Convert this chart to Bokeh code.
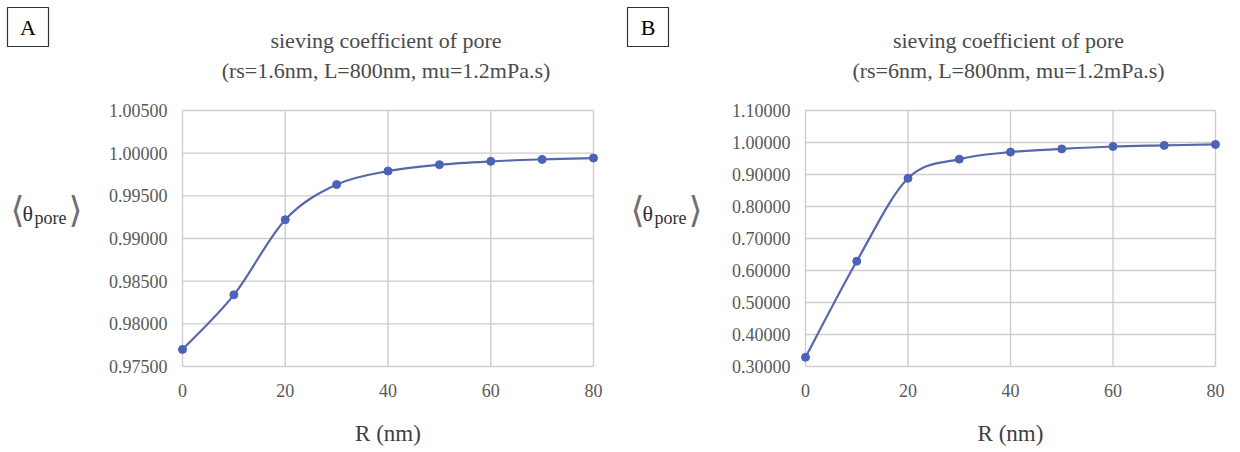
import numpy as np
from bokeh.plotting import figure
from bokeh.models import Range1d, FixedTicker, PrintfTickFormatter
from bokeh.layouts import row, column
from bokeh.embed import file_html
from bokeh.resources import INLINE
from bokeh.core.properties import value

# ---------------- data ----------------
R_nm = [0, 10, 20, 30, 40, 50, 60, 70, 80]
theta_A = [0.97700, 0.98340, 0.99220, 0.99632, 0.99790, 0.99865, 0.99904, 0.99927, 0.99943]
theta_B = [0.3290, 0.6290, 0.8880, 0.9480, 0.9700, 0.9800, 0.9875, 0.9910, 0.9940]

x_ticks = [0, 20, 40, 60, 80]
y_ticks_A = [0.975, 0.980, 0.985, 0.990, 0.995, 1.000, 1.005]
y_ticks_B = [0.3, 0.4, 0.5, 0.6, 0.7, 0.8, 0.9, 1.0, 1.1]

title_lines_A = ["sieving coefficient of pore", "(rs=1.6nm, L=800nm, mu=1.2mPa.s)"]
title_lines_B = ["sieving coefficient of pore", "(rs=6nm, L=800nm, mu=1.2mPa.s)"]
panel_letters = ["A", "B"]
x_label = "R (nm)"
y_label_parts = ["\u27e8", "\u03b8", "pore", "\u27e9"]

# ---------------- style ----------------
SERIF = "Liberation Serif"
AXFONT = "'Liberation Serif', serif"
GRID = "#cdcdcd"
LINE = "#5866ab"
MARK = "#4a62b8"
TICK_COL = "#595959"
TITLE_COL = "#4a4a4a"
DARK = "#303030"
PW, H = 620, 452      # panel size
TOP = 100             # height of the title strip
LW = 90               # width of the y-label strip


def bezier_parts(x, y):
    x = np.asarray(x, float)
    y = np.asarray(y, float)
    xp = np.concatenate([[x[0]], x, [x[-1]]])
    yp = np.concatenate([[y[0]], y, [y[-1]]])
    n = len(x) - 1
    p0x, p1x, p2x, p3x = xp[0:n], xp[1:n + 1], xp[2:n + 2], xp[3:n + 3]
    p0y, p1y, p2y, p3y = yp[0:n], yp[1:n + 1], yp[2:n + 2], yp[3:n + 3]
    return dict(
        x0=p1x, y0=p1y, x1=p2x, y1=p2y,
        cx0=p1x + (p2x - p0x) / 6.0, cy0=p1y + (p2y - p0y) / 6.0,
        cx1=p2x - (p3x - p1x) / 6.0, cy1=p2y - (p3y - p1y) / 6.0,
    )


def strip(w, h):
    f = figure(width=w, height=h, output_backend="svg", toolbar_location=None, title=None,
               x_range=Range1d(0, w), y_range=Range1d(0, h),
               x_axis_type=None, y_axis_type=None, min_border=0)
    f.outline_line_color = None
    f.grid.visible = False
    return f


def make_panel(ys, y_ticks, title_lines, letter, fx0, fx80, fytop, fybot):
    pad_px_x, pad_px_y = 10, 4
    xmin, xmax = x_ticks[0], x_ticks[-1]
    ymin, ymax = y_ticks[0], y_ticks[-1]
    ux = (xmax - xmin) / (fx80 - fx0)
    uy = (ymax - ymin) / (fybot - fytop)
    mw, mh = PW - LW, H - TOP
    p = figure(
        width=mw, height=mh, output_backend="svg", toolbar_location=None, title=None,
        x_range=Range1d(xmin - pad_px_x * ux, xmax + pad_px_x * ux),
        y_range=Range1d(ymin - pad_px_y * uy, ymax + pad_px_y * uy),
        min_border_left=int(fx0 - pad_px_x - LW), min_border_right=int(PW - fx80 - pad_px_x),
        min_border_top=int(fytop - pad_px_y - TOP), min_border_bottom=int(H - fybot - pad_px_y),
    )
    p.outline_line_color = None
    p.grid.visible = False

    p.segment(x0=x_ticks, y0=[ymin] * len(x_ticks), x1=x_ticks, y1=[ymax] * len(x_ticks),
              line_color=GRID, line_width=1.4)
    p.segment(x0=[xmin] * len(y_ticks), y0=y_ticks, x1=[xmax] * len(y_ticks), y1=y_ticks,
              line_color=GRID, line_width=1.4)

    p.bezier(line_color=LINE, line_width=2.2, **bezier_parts(R_nm, ys))
    p.scatter(R_nm, ys, size=8, fill_color=MARK, line_color=MARK)

    for ax in (p.xaxis[0], p.yaxis[0]):
        ax.axis_line_color = None
        ax.major_tick_line_color = None
        ax.minor_tick_line_color = None
        ax.major_tick_out = 0
        ax.major_tick_in = 0
        ax.minor_tick_out = 0
        ax.minor_tick_in = 0
        ax.major_label_text_font = AXFONT
        ax.major_label_text_font_size = "18px"
        ax.major_label_text_color = TICK_COL
    p.xaxis.ticker = FixedTicker(ticks=x_ticks)
    p.yaxis.ticker = FixedTicker(ticks=y_ticks)
    p.yaxis.formatter = PrintfTickFormatter(format="%.5f")
    p.xaxis.major_label_standoff = 13
    p.yaxis.major_label_standoff = 5
    p.xaxis.axis_label = x_label
    p.xaxis.axis_label_text_font = AXFONT
    p.xaxis.axis_label_text_font_size = "23px"
    p.xaxis.axis_label_text_font_style = "normal"
    p.xaxis.axis_label_text_color = "#404040"
    p.xaxis.axis_label_standoff = 21

    # ---- title strip ----
    t = strip(PW, TOP)
    cx = (fx0 + fx80) / 2 - 2
    t.text(x=[cx, cx], y=[TOP - 40, TOP - 70], text=title_lines,
           text_font=value(SERIF), text_font_size=value("22px"), text_color=TITLE_COL,
           text_align="center", text_baseline="alphabetic")
    t.rect(x=[27.5], y=[TOP - 26.5], width=[41], height=[39],
           fill_color="white", line_color="#333333", line_width=1.2)
    t.text(x=[27.5], y=[TOP - 26.5], text=[letter],
           text_font=value(SERIF), text_font_size=value("22px"), text_color="black",
           text_align="center", text_baseline="middle")

    # ---- y-label strip ----
    s = strip(LW, H - TOP)
    yc = 237
    s.text(x=[17, 75], y=[H - yc, H - yc], text=[y_label_parts[0], y_label_parts[3]],
           text_font=value("DejaVu Sans"), text_font_size=value("36px"), text_color="#707070",
           text_align="center", text_baseline="middle")
    s.text(x=[22], y=[H - yc - 5], text=[y_label_parts[1]],
           text_font=value(SERIF), text_font_size=value("22px"), text_color=DARK,
           text_align="left", text_baseline="alphabetic")
    s.text(x=[34], y=[H - yc - 11], text=[y_label_parts[2]],
           text_font=value(SERIF), text_font_size=value("18px"), text_color=DARK,
           text_align="left", text_baseline="alphabetic")

    return column(t, row(s, p, spacing=0), spacing=0)


pA = make_panel(theta_A, y_ticks_A, title_lines_A, panel_letters[0], 182, 593, 110, 366)
pB = make_panel(theta_B, y_ticks_B, title_lines_B, panel_letters[1], 185, 595, 110, 366)

layout = row(pA, pB, spacing=0)
open("out.html", "w").write(file_html(layout, INLINE))
